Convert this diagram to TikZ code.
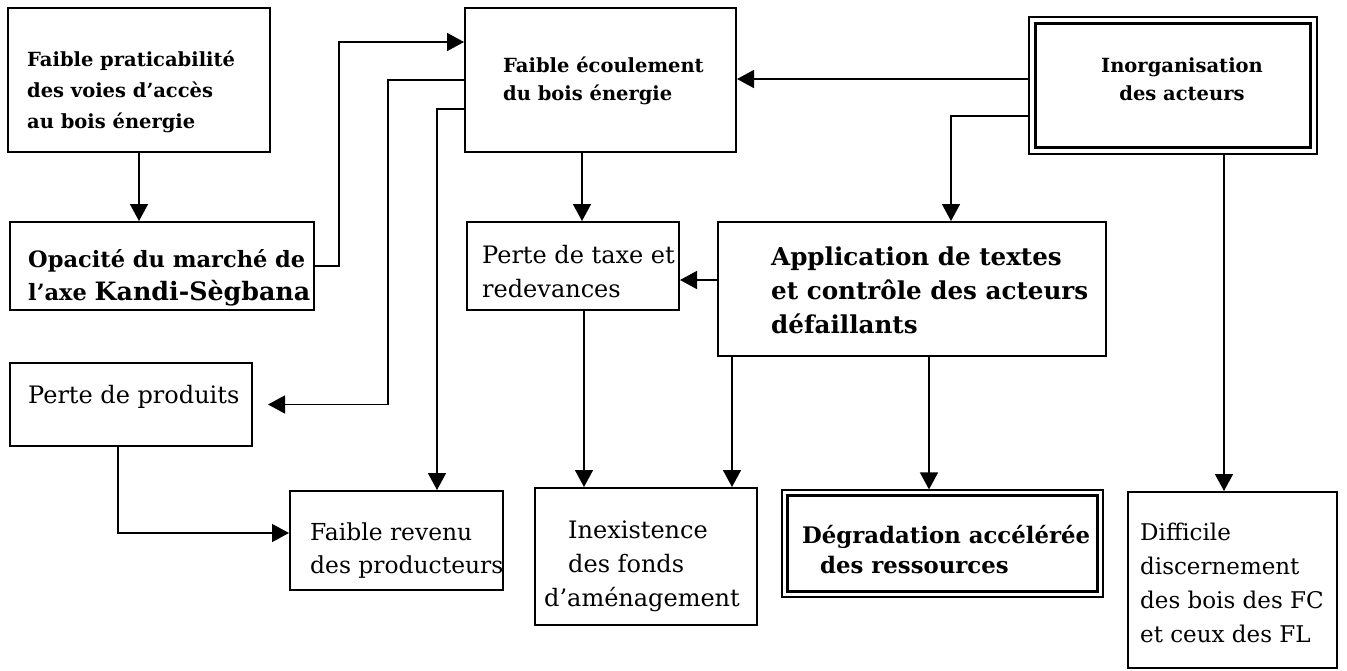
\documentclass[tikz,border=0pt]{standalone}
\usepackage{fontspec}
\setmainfont{DejaVu Serif}
\usetikzlibrary{arrows.meta}
\begin{document}
\begin{tikzpicture}[x=1pt,y=-1pt,
  box/.style={draw, line width=2pt, inner sep=0pt, rectangle},
  dbox/.style={draw, line width=1.2pt, inner sep=0pt, rectangle},
  arr/.style={line width=1.6pt, -{Triangle[length=17pt,width=18pt]}},
  txt/.style={inner sep=0pt, align=left, anchor=base west},
  fsb/.style={font=\fontsize{19.5}{28}\selectfont\bfseries},
  fbb/.style={font=\fontsize{24.6}{34}\selectfont\bfseries},
  freg/.style={font=\fontsize{24}{34}\selectfont},
]
\useasboundingbox (0,0) rectangle (1347,670);

% boxes
\node[box, minimum width=262pt, minimum height=144pt] (A) at (139,80) {};
\node[box, minimum width=304pt, minimum height=88pt] (B) at (162,266) {};
\node[box, minimum width=271pt, minimum height=144pt] (C) at (600.5,80) {};
\node[dbox, minimum width=288pt, minimum height=137pt] (IO) at (1173,85.5) {};
\node[box, minimum width=212pt, minimum height=88pt] (PT) at (573,266) {};
\node[box, minimum width=388pt, minimum height=134pt] (AP) at (912,289) {};
\node[box, minimum width=242pt, minimum height=83pt] (PP) at (131,404.5) {};
\node[box, minimum width=213pt, minimum height=99pt] (FR) at (396.5,540.5) {};
\node[box, minimum width=222pt, minimum height=137pt] (IN) at (646,556.5) {};
\node[dbox, minimum width=321pt, minimum height=107pt] (DG) at (942.5,543.5) {};
\node[box, minimum width=209pt, minimum height=176pt] (DF) at (1232.5,580) {};

\draw[line width=3.5pt] ([shift={(7pt,7pt)}]IO.south west) rectangle ([shift={(-7pt,-7pt)}]IO.north east);
\draw[line width=3.5pt] ([shift={(6pt,6pt)}]DG.south west) rectangle ([shift={(-6pt,-6pt)}]DG.north east);

% texts (anchor = baseline of the last line)
\node[txt,font=\fontsize{19.5}{31}\selectfont\bfseries] (tA) at (27,128) {Faible praticabilité\\des voies d'accès\\au bois énergie};
\node[txt,font=\fontsize{22.5}{33}\selectfont\bfseries] (tB) at (28,300) {Opacité du marché de\\l'axe {\fontsize{25.3}{33}\selectfont Kandi-Sègbana}};
\node[txt,fsb] (tC) at (503,100) {Faible écoulement\\du bois énergie};
\node[txt,fsb,align=center,anchor=base] (tIO) at (1182,100) {Inorganisation\\des acteurs};
\node[txt,freg] (tPT) at (482,297) {Perte de taxe et\\redevances};
\node[txt,fbb] (tAP) at (771,333) {Application de textes\\et contrôle des acteurs\\défaillants};
\node[txt,freg] (tPP) at (28,403) {Perte de produits};
\node[txt,font=\fontsize{23.4}{33}\selectfont] (tFR) at (310,573) {Faible revenu\\des producteurs};
\node[txt,freg] (tIN) at (544,606) {\hspace*{24pt}Inexistence\\\hspace*{24pt}des fonds\\d'aménagement};
\node[txt,font=\fontsize{22.8}{30}\selectfont\bfseries] (tDG) at (802,573) {Dégradation accélérée\\\hspace*{18pt}des ressources};
\node[txt,font=\fontsize{23}{34}\selectfont] (tDF) at (1140,642) {Difficile\\discernement\\des bois des FC\\et ceux des FL};

% helper coordinates
\coordinate (x437) at (437,0);
\coordinate (x582) at (582,0);
\coordinate (x584) at (584,0);
\coordinate (x732) at (732,0);
\coordinate (x929) at (929,0);
\coordinate (x951) at (951,0);
\coordinate (x1224) at (1224,0);
\coordinate (x118) at (118,0);
\coordinate (y79) at (0,79);
\coordinate (y116) at (0,116);
\coordinate (y280) at (0,280);
\coordinate (y533) at (0,533);

% connectors
\draw[arr] (A.south) -- (A.south |- B.north);
\draw[arr] (B.east) -- ++(24,0) |- ([yshift=38pt]C.west);
\draw[arr] (C.west) -- ++(-76,0) |- ([xshift=15pt]PP.east);
\draw[arr] ([yshift=-29pt]C.west) -| (FR.north -| x437);
\draw[arr] (C.south -| x582) -- (PT.north -| x582);
\draw[arr] (PT.south -| x584) -- (IN.north -| x584);
\draw[arr] (AP.west |- y280) -- (PT.east |- y280);
\draw[arr] (AP.south -| x732) -- (IN.north -| x732);
\draw[arr] (AP.south -| x929) -- (DG.north -| x929);
\draw[arr] (IO.west |- y79) -- (C.east |- y79);
\draw[arr] (IO.west |- y116) -| (AP.north -| x951);
\draw[arr] (IO.south -| x1224) -- (DF.north -| x1224);
\draw[arr] (PP.south -| x118) |- (FR.west |- y533);
\end{tikzpicture}
\end{document}
